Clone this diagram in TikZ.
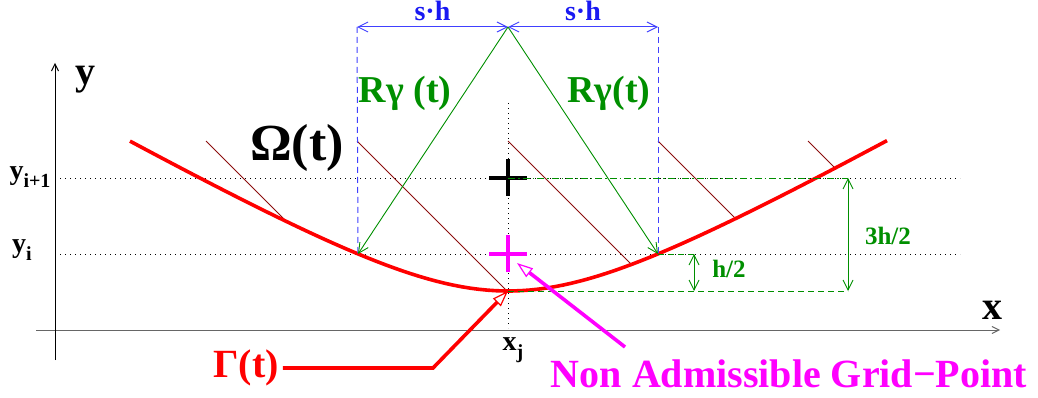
\documentclass[tikz,border=0pt]{standalone}
\usepackage{fontspec}
\setmainfont{Liberation Serif}
\usetikzlibrary{arrows.meta,positioning,calc}
\definecolor{figgreen}{rgb}{0.0, 0.56, 0.0}
\definecolor{figblue}{rgb}{0.25, 0.25, 1.0}
\definecolor{figtextblue}{rgb}{0.1, 0.1, 0.95}
\definecolor{figmagenta}{rgb}{1.0, 0.0, 1.0}
\definecolor{figbrown}{rgb}{0.55, 0.05, 0.05}
\definecolor{figred}{rgb}{1.0, 0.0, 0.0}
\newcommand{\fsz}[1]{\fontsize{#1}{#1}\selectfont\bfseries}
\newcommand{\lowidx}[1]{\raisebox{-0.3em}{\fontsize{20}{20}\selectfont\bfseries #1}}
\tikzset{
  >={Straight Barb[length=10pt,width=10pt]},
  axis/.style={line width=1pt},
  gridline/.style={line width=0.9pt,dash pattern=on 1pt off 4pt},
  boundary/.style={figred,line width=3.6pt},
  hatch/.style={figbrown,line width=0.8pt},
  dimblue/.style={figblue,line width=1pt,dash pattern=on 6pt off 4pt},
  ray/.style={figgreen,line width=0.9pt,->},
  measure/.style={figgreen,line width=0.9pt},
  plusmark/.style={line width=4pt},
  pointer/.style={line width=3.6pt,-{Triangle[open,length=16pt,width=11pt,line width=1.2pt]}},
  lbl/.style={inner sep=0pt}
}
\begin{document}
\begin{tikzpicture}[x=1pt,y=-1pt]
  \useasboundingbox (0,0) rectangle (1038,398);
  % key points
  \coordinate (apex) at (508,27);
  \coordinate (footL) at (358,254);
  \coordinate (footR) at (658,254);
  \coordinate (bottom) at (508,291);
  \coordinate (gridA) at (508,178);
  \coordinate (gridB) at (508,254);

  % axes
  \coordinate (xfrom) at (36,330);
  \coordinate (xto) at (1000,330);
  \coordinate (yfrom) at (55,360);
  \coordinate (yto) at (55,63);
  \draw[axis,gray!80!black,-{Straight Barb[length=7pt,width=7pt]}] (xfrom) -- (xto);
  \draw[axis,-{Straight Barb[length=7pt,width=7pt]}] (yfrom) -- (yto);
  \node[lbl] (ylab) at (85,80) {\fsz{40}y};
  \node[lbl] (xlab) at (992,310) {\fsz{40}x};

  % grid lines
  \coordinate (rowAend) at (960,178);
  \coordinate (rowBend) at (960,254);
  \draw[gridline] (55,178) -- (rowAend);
  \draw[gridline] (55,254) -- (rowBend);
  \draw[gridline] (508,103) -- (508,328);
  \node[lbl] (yip) at (30,177) {\fsz{28}y\lowidx{i+1}};
  \node[lbl] (yi) at (22,250) {\fsz{28}y\lowidx{i}};
  \node[lbl] (xj) at (513,350) {\fsz{28}x\lowidx{j}};

  % hatching of the domain
  \draw[hatch] (206,141) -- (286,221);
  \draw[hatch] (357,141) -- (507,291);
  \draw[hatch] (508,141) -- (631,264);
  \draw[hatch] (658,141) -- (735,218);
  \draw[hatch] (808,141) -- (835,168);

  % interface
  \draw[boundary] plot[domain=-37.8:37.9,samples=90]
    ({508+10*\x},{291-10*(sqrt(64+0.325*\x*\x)-8)});

  % search radius
  \coordinate (blueL) at (357,27);
  \coordinate (blueR) at (658,27);
  \draw[dimblue] (blueL) -- (footL);
  \draw[dimblue] (blueR) -- (footR);
  \draw[figblue,line width=1pt,<->] (blueL) -- node[lbl,above=6pt,figtextblue] {\fsz{28}s·h} (apex);
  \draw[figblue,line width=1pt,<->] (apex) -- node[lbl,above=6pt,figtextblue] {\fsz{28}s·h} (blueR);
  \draw[ray] (apex) -- (footL);
  \draw[ray] (apex) -- (footR);
  \node[lbl,figgreen] (rgL) at (405,93) {\fsz{38}Rγ (t)};
  \node[lbl,figgreen] (rgR) at (609,93) {\fsz{38}Rγ(t)};
  \node[lbl] (omega) at (297,148) {\fsz{52}Ω(t)};

  % grid points
  \draw[plusmark] ([xshift=-19pt]gridA) -- ([xshift=19pt]gridA)
    ([yshift=-18pt]gridA) -- ([yshift=19pt]gridA);
  \draw[plusmark,figmagenta] ([xshift=-19pt]gridB) -- ([xshift=19pt]gridB)
    ([yshift=-18pt]gridB) -- ([yshift=19pt]gridB);

  % distances
  \coordinate (dimA) at (848,178);
  \coordinate (dimC) at (848,291);
  \coordinate (halfA) at (694,254);
  \coordinate (halfC) at (694,291);
  \draw[measure,dash pattern=on 7pt off 3pt on 1.5pt off 3pt] (gridA) -- (dimA);
  \draw[measure,dash pattern=on 6pt off 4pt] (bottom) -- (dimC);
  \draw[measure,dash pattern=on 6pt off 4pt] (footR) -- (halfA);
  \draw[measure,<->] (halfA) -- (halfC);
  \draw[measure,<->] (dimA) -- (dimC);
  \node[lbl,figgreen] (half) at (729,269) {\fsz{25}h/2};
  \node[lbl,figgreen] (threehalf) at (888,236) {\fsz{25}3h/2};

  % pointers
  \node[lbl,figred] (gamma) at (246,368) {\fsz{40}Γ(t)};
  \coordinate (bend) at (433,368);
  \draw[pointer,figred] (gamma.east) ++(4pt,0) -- (bend) -- (bottom);
  \node[lbl,figmagenta] (nonadm) at (789,374) {\fsz{40}Non Admissible Grid−Point};
  \coordinate (magstart) at (625,347);
  \draw[pointer,figmagenta] (magstart) -- (517,263);
\end{tikzpicture}
\end{document}
